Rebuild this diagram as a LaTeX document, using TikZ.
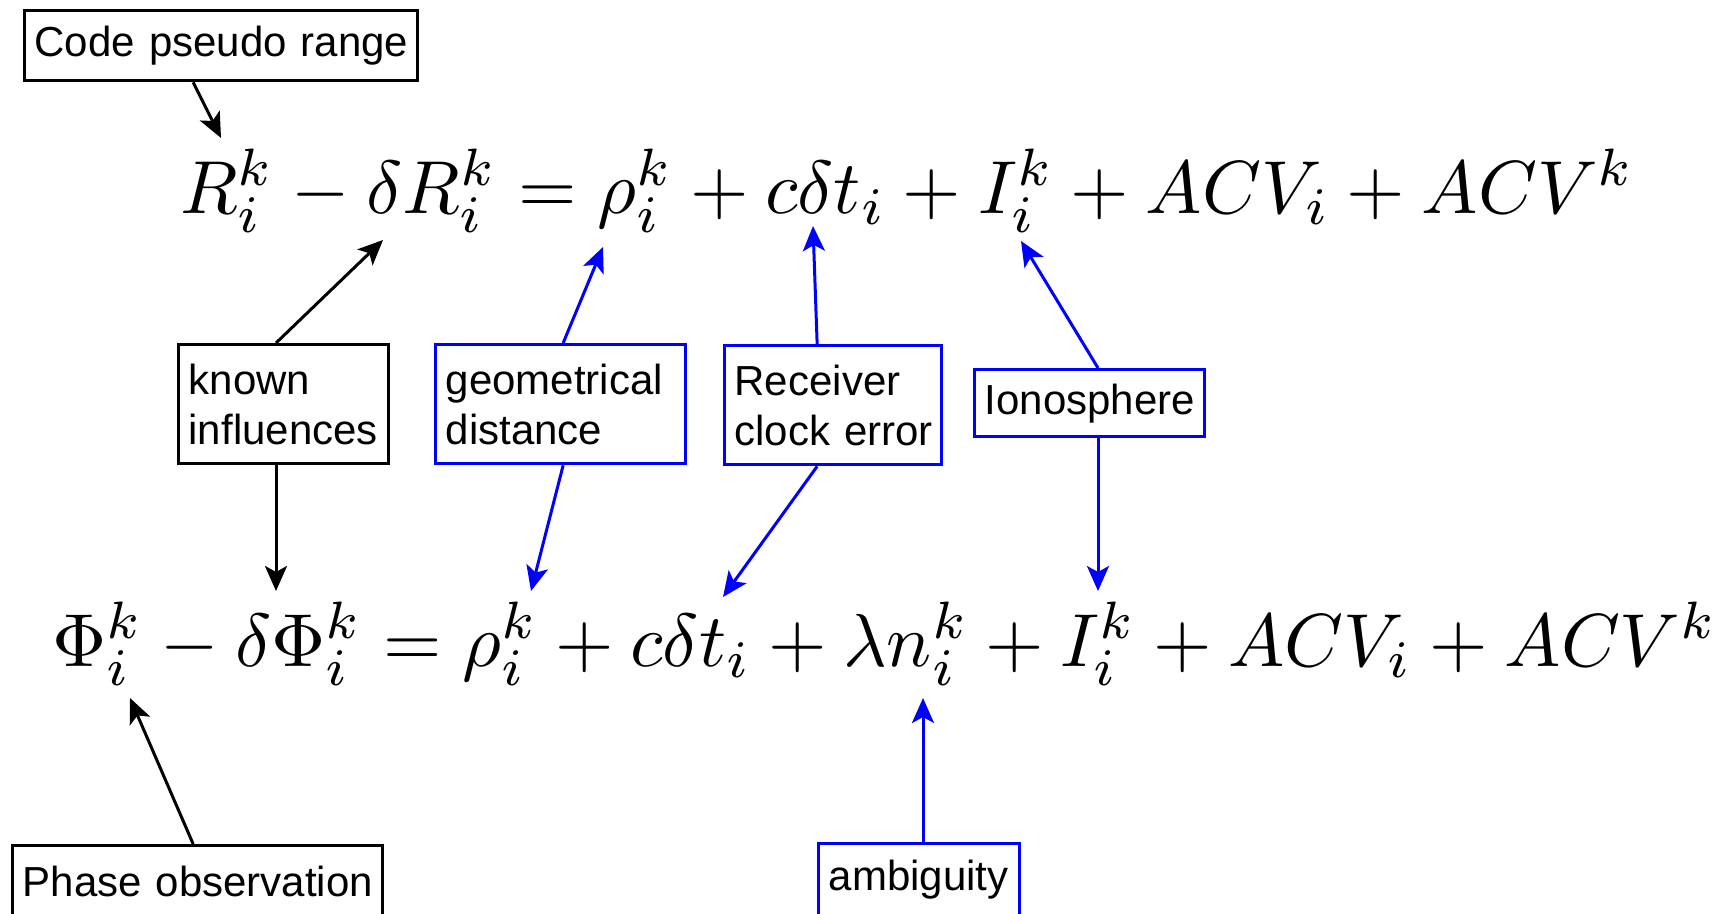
\documentclass[tikz,border=0pt]{standalone}
\usepackage{graphicx}
\usepackage{fontspec}
\newfontfamily\labfont{Liberation Sans}
\usetikzlibrary{arrows.meta}
\begin{document}
\begin{tikzpicture}[x=1pt,y=-1pt,
  lab/.style={draw, line width=3.3pt, anchor=north west, align=left,
    inner xsep=10pt, inner ysep=0pt, text=black,
    font=\labfont\fontsize{42}{50}\selectfont},
  blk/.style={lab, draw=black},
  blu/.style={lab, draw=blue},
  arr/.style={line width=3pt, -{Stealth[length=25pt,width=22pt,inset=6pt]}},
  eq/.style={inner sep=0pt, anchor=base west}]
\useasboundingbox (0,0) rectangle (1731,913);

% equations
\node[eq] (top) at (180,213) {\resizebox{1454pt}{!}{$R_i^k - \delta R_i^k = \rho_i^k + c\delta t_i + I_i^k + ACV_i + ACV^k$}};
\node[eq] (bot) at (52,666) {\resizebox{1665pt}{!}{$\Phi_i^k - \delta \Phi_i^k = \rho_i^k + c\delta t_i + \lambda n_i^k + I_i^k + ACV_i + ACV^k$}};

% boxes
\node[blk, minimum width=393pt, minimum height=70pt, text width=373pt] (code) at (23,9) {\mbox{Code pseudo range}};
\node[blk, minimum width=210pt, minimum height=119pt, text width=190pt] (known) at (177,343) {\mbox{known}\\\mbox{influences}};
\node[blu, minimum width=250pt, minimum height=119pt, text width=230pt] (geo) at (434,343) {\mbox{geometrical}\\\mbox{distance}};
\node[blu, minimum width=217pt, minimum height=119pt, text width=197pt] (rcv) at (723,344) {\mbox{Receiver}\\\mbox{clock error}};
\node[blu, minimum width=230pt, minimum height=67pt, text width=210pt] (iono) at (973,368) {\mbox{Ionosphere}};
\node[blk, minimum width=370pt, minimum height=72pt, text width=350pt] (phase) at (11,844) {\mbox{Phase observation}};
\node[blu, minimum width=201pt, minimum height=72pt, text width=181pt] (amb) at (817,842) {\mbox{ambiguity}};

% arrow targets on the equations
\coordinate (pR) at (221,138);
\coordinate (pdR) at (383,240);
\coordinate (pdPhi) at (276,591);
\coordinate (prhoA) at (603,247);
\coordinate (prhoB) at (531,591);
\coordinate (pctA) at (813,226);
\coordinate (pctB) at (723,597);
\coordinate (pIA) at (1021,241);
\coordinate (pIB) at (1098,591);
\coordinate (pPhi) at (130,698);
\coordinate (plam) at (923,698);

% connectors
\draw[arr] ([xshift=-28pt]code.south) -- (pR);
\draw[arr] (known.north -| pdPhi) -- (pdR);
\draw[arr] (known.south -| pdPhi) -- (pdPhi);
\draw[arr, blue] ([xshift=2.5pt]geo.north) -- (prhoA);
\draw[arr, blue] ([xshift=2.5pt]geo.south) -- (prhoB);
\draw[arr, blue] ([xshift=-16pt]rcv.north) -- (pctA);
\draw[arr, blue] ([xshift=-16pt]rcv.south) -- (pctB);
\draw[arr, blue] (iono.north -| pIB) -- (pIA);
\draw[arr, blue] (iono.south -| pIB) -- (pIB);
\draw[arr] ([xshift=-4.5pt]phase.north) -- (pPhi);
\draw[arr, blue] (amb.north -| plam) -- (plam);
\end{tikzpicture}
\end{document}
